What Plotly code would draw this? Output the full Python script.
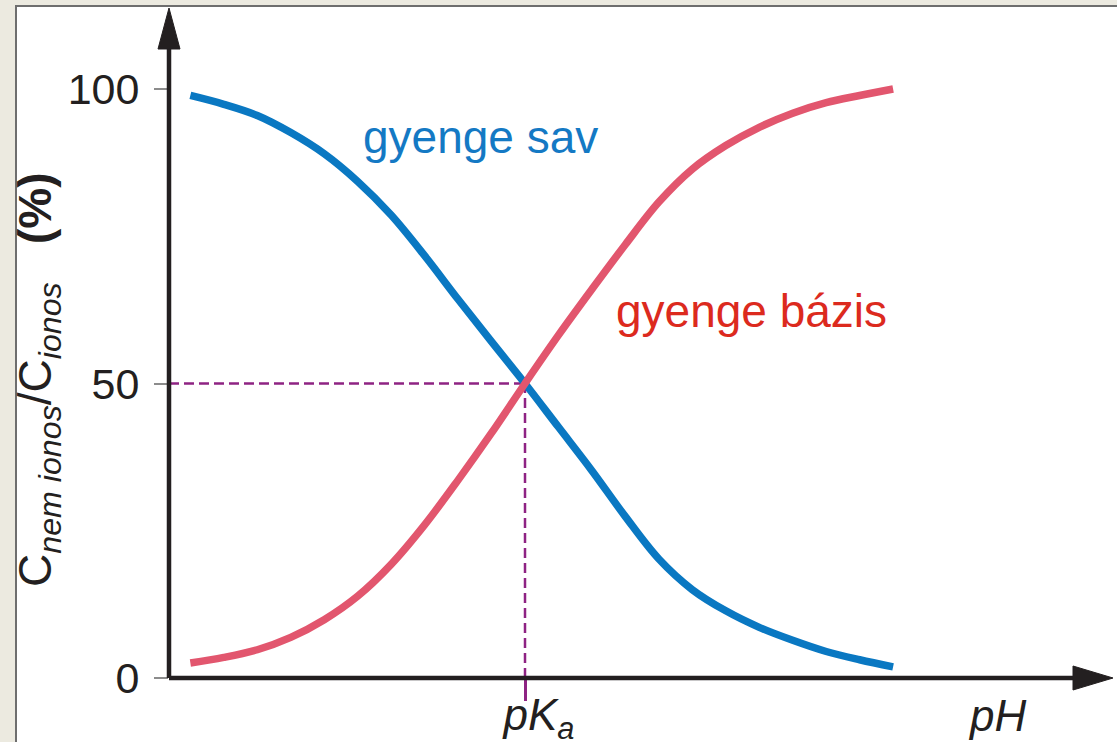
import plotly.graph_objects as go

# ---- data ----
ph = [0.30, 0.77, 1.24, 1.71, 2.18, 2.65, 3.12, 3.59, 4.06, 4.53, 5.00,
      5.47, 5.94, 6.41, 6.88, 7.35, 7.82, 8.29, 8.76, 9.23, 9.70, 10.17]
acid_pct = [98.9, 97.4, 95.5, 92.6, 89.0, 84.3, 78.6, 71.7, 64.3, 57.1, 50.0,
            42.6, 35.2, 27.4, 20.2, 15.0, 11.4, 8.6, 6.4, 4.5, 3.1, 1.9]
base_pct = [2.55, 3.5, 4.8, 6.9, 9.9, 13.9, 19.3, 26.0, 33.6, 41.6, 50.0,
            58.2, 66.0, 73.6, 80.8, 86.4, 90.4, 93.5, 95.9, 97.7, 98.9, 100.0]
pka = 5.0
half = 50
y_ticks = [0, 50, 100]
series_names = ["gyenge sav", "gyenge bázis"]
x_tick_text = ["pK<sub>a</sub>"]
x_title = "pH"
y_title = "C<sub><i>nem ionos</i></sub>/C<sub><i>ionos</i></sub>\u00a0\u00a0\u00a0<b>(%)</b>"

# ---- layout constants (pixels) ----
W, H = 1117, 742
L, R, T, B = 169, 4, 8, 64
PW, PH = W - L - R, H - T - B
X_MAX = PW / 71.2
Y_MAX = PH / 5.89

def pxx(px):
    return (px - L) / PW

def pxy(py):
    return (H - B - py) / PH

BLUE = "#0a78c2"
RED = "#e2566e"
BLUE_T = "#1479c4"
RED_T = "#dc2a1e"
PURPLE = "#8e2383"
INK = "#231f20"
FONT = "Liberation Sans, Arial, sans-serif"

fig = go.Figure()
fig.add_trace(go.Scatter(x=ph, y=acid_pct, mode="lines", name=series_names[0],
                         line=dict(color=BLUE, width=7.5, shape="spline", smoothing=1.0)))
fig.add_trace(go.Scatter(x=ph, y=base_pct, mode="lines", name=series_names[1],
                         line=dict(color=RED, width=7.5, shape="spline", smoothing=1.0)))

shapes = [
    # white panel with grey border
    dict(type="rect", xref="paper", yref="paper", x0=pxx(16), x1=pxx(1140),
         y0=pxy(6), y1=pxy(770), fillcolor="white",
         line=dict(color="#6e6e6e", width=2), layer="below"),
    # dashed guides
    dict(type="line", xref="x", yref="y", x0=0, x1=pka, y0=half, y1=half,
         line=dict(color=PURPLE, width=2.5, dash="10px,5px"), layer="below"),
    dict(type="line", xref="x", yref="y", x0=pka, x1=pka, y0=0, y1=half,
         line=dict(color=PURPLE, width=2.5, dash="10px,5px"), layer="below"),
    # axis lines
    dict(type="line", xref="paper", yref="paper", x0=0, x1=0, y0=0, y1=pxy(40),
         line=dict(color=INK, width=4.5), layer="above"),
    dict(type="line", xref="paper", yref="paper", x0=0, x1=pxx(1085), y0=0, y1=0,
         line=dict(color=INK, width=4.5), layer="above"),
    # arrowheads
    dict(type="path", xref="paper", yref="paper", xsizemode="pixel", ysizemode="pixel",
         xanchor=0, yanchor=1, path="M 0,0 L -11,-41 L 11,-41 Z",
         fillcolor=INK, line=dict(color=INK, width=1), layer="above"),
    dict(type="path", xref="paper", yref="paper", xsizemode="pixel", ysizemode="pixel",
         xanchor=1, yanchor=0, path="M 0,0 L -40,-12 L -40,12 Z",
         fillcolor=INK, line=dict(color=INK, width=1), layer="above"),
]

annotations = [
    dict(text=series_names[0], x=4.37, y=91.8, xref="x", yref="y", showarrow=False,
         xanchor="center", yanchor="middle", font=dict(family=FONT, size=46, color=BLUE_T)),
    dict(text=series_names[1], x=8.18, y=62.3, xref="x", yref="y", showarrow=False,
         xanchor="center", yanchor="middle", font=dict(family=FONT, size=46, color=RED_T)),
    dict(text=x_title, x=pxx(997), y=pxy(715), xref="paper", yref="paper", showarrow=False,
         xanchor="center", yanchor="middle",
         font=dict(family=FONT, size=44, color=INK, style="italic")),
    dict(text=y_title, x=pxx(38), y=pxy(380), xref="paper", yref="paper", showarrow=False,
         xanchor="center", yanchor="middle", textangle=-90,
         font=dict(family=FONT, size=46, color=INK)),
]

fig.update_layout(
    width=W, height=H,
    margin=dict(l=L, r=R, t=T, b=B, pad=0, autoexpand=False),
    paper_bgcolor="#eceae0",
    plot_bgcolor="rgba(0,0,0,0)",
    showlegend=False,
    shapes=shapes,
    annotations=annotations,
    xaxis=dict(range=[0, X_MAX], showgrid=False, zeroline=False, showline=False,
               automargin=False,
               tickvals=[pka], ticktext=x_tick_text, ticks="outside", ticklen=22,
               tickwidth=2.5, tickcolor=PURPLE, ticklabelshift=14, ticklabelstandoff=-24,
               tickfont=dict(family=FONT, size=44, color=INK, style="italic")),
    yaxis=dict(range=[0, Y_MAX], showgrid=False, zeroline=False, showline=False,
               automargin=False,
               tickvals=y_ticks, ticks="outside", ticklen=14, tickwidth=1.5,
               tickcolor="#8c8c8c", ticklabelstandoff=6,
               tickfont=dict(family=FONT, size=43, color=INK)),
)

fig.write_html("out.html", config={"displayModeBar": False},
               post_script="document.body.style.margin='0px';document.body.style.overflow='hidden';")
